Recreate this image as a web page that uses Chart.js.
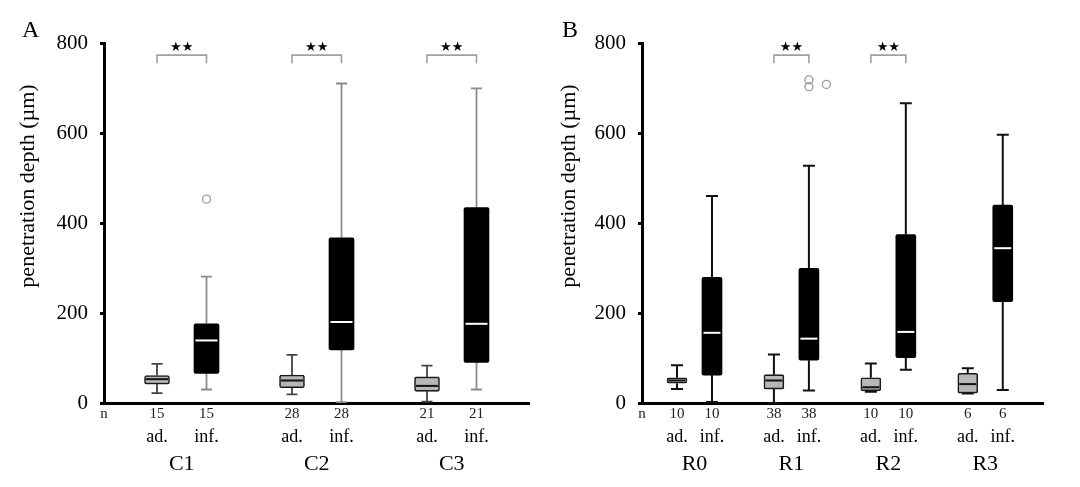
<!DOCTYPE html>
<html>
<head>
<meta charset="utf-8">
<script src="https://cdn.jsdelivr.net/npm/chart.js@4.4.1/dist/chart.umd.min.js"></script>
<style>
body { margin: 0; background: #fff; }
#wrap { position: relative; width: 1080px; height: 487px; }
canvas { position: absolute; top: 0; }
#chartA { left: 0; }
#chartB { left: 540px; }
</style>
</head>
<body>
<div id="wrap">
  <canvas id="chartA" width="540" height="487"></canvas>
  <canvas id="chartB" width="540" height="487"></canvas>
</div>
<script>
// ---- panel A data ----
var groupsA = ['C1', 'C2', 'C3'];
var countA = [15, 28, 21];
var adLowA = [22, 19, 3];
var adQ1A = [42, 34, 26];
var adMedA = [53, 50, 38];
var adQ3A = [61, 62, 58];
var adHighA = [87, 107, 83];
var infLowA = [30, 2, 30];
var infQ1A = [66, 118, 90];
var infMedA = [139, 180, 176];
var infQ3A = [176, 367, 434];
var infHighA = [281, 710, 699];
var infOutA = [[453], [], []];
var sigA = [true, true, true];

// ---- panel B data ----
var groupsB = ['R0', 'R1', 'R2', 'R3'];
var countB = [10, 38, 10, 6];
var adLowB = [31, 0, 25, 21];
var adQ1B = [44, 31, 27, 22];
var adMedB = [50, 50, 35, 42];
var adQ3B = [56, 63, 56, 66];
var adHighB = [84, 108, 88, 77];
var infLowB = [2, 28, 74, 29];
var infQ1B = [62, 95, 101, 225];
var infMedB = [156, 143, 158, 344];
var infQ3B = [279, 299, 374, 440];
var infHighB = [460, 527, 666, 596];
var infOutB = [[], [718, 703, 708], [], []];
var infOutShiftB = [[], [0, 0, 0.5], [], []];
var sigB = [false, true, true, false];

var yTicks = [0, 200, 400, 600, 800];
var subLabels = ['ad.', 'inf.'];
var yTitle = 'penetration depth (\u00b5m)';

var SERIF = "'Liberation Serif', 'Times New Roman', serif";
var BRACKET_TOP = 773;
var BRACKET_LOW = 755;

function buildBoxes(p) {
    var boxes = [];
    p.groups.forEach(function(g, i) {
        var base = p.start + i * p.step;
        boxes.push({pos: base, low: p.adLow[i], q1: p.adQ1[i], med: p.adMed[i], q3: p.adQ3[i], high: p.adHigh[i], kind: 'ad'});
        boxes.push({pos: base + p.inner, low: p.infLow[i], q1: p.infQ1[i], med: p.infMed[i], q3: p.infQ3[i], high: p.infHigh[i], kind: 'inf'});
    });
    return boxes;
}

function boxPlugin(p, boxes) {
    return {
        id: 'boxes' + p.letter,
        beforeDatasetsDraw: function(chart) {
            var ctx = chart.ctx, xs = chart.scales.x, ys = chart.scales.y;
            ctx.save();
            boxes.forEach(function(b) {
                var cx = xs.getPixelForValue(b.pos);
                ctx.strokeStyle = b.kind == 'ad' ? p.adWhisker : p.infWhisker;
                ctx.lineWidth = p.whiskerWidth;
                ctx.beginPath();
                ctx.moveTo(cx, ys.getPixelForValue(b.low));
                ctx.lineTo(cx, ys.getPixelForValue(b.q1));
                ctx.moveTo(cx, ys.getPixelForValue(b.q3));
                ctx.lineTo(cx, ys.getPixelForValue(b.high));
                ctx.moveTo(cx - p.cap / 2, ys.getPixelForValue(b.low));
                ctx.lineTo(cx + p.cap / 2, ys.getPixelForValue(b.low));
                ctx.moveTo(cx - p.cap / 2, ys.getPixelForValue(b.high));
                ctx.lineTo(cx + p.cap / 2, ys.getPixelForValue(b.high));
                ctx.stroke();
            });
            ctx.restore();
        },
        afterDatasetsDraw: function(chart) {
            var ctx = chart.ctx, xs = chart.scales.x, ys = chart.scales.y;
            ctx.save();
            boxes.forEach(function(b) {
                var cx = xs.getPixelForValue(b.pos);
                var my = ys.getPixelForValue(b.med);
                ctx.strokeStyle = b.kind == 'ad' ? '#111' : '#fff';
                ctx.lineWidth = 2;
                ctx.beginPath();
                ctx.moveTo(cx - p.boxWidth / 2 + 1.5, my);
                ctx.lineTo(cx + p.boxWidth / 2 - 1.5, my);
                ctx.stroke();
            });
            ctx.restore();
        },
        afterDraw: function(chart) {
            var ctx = chart.ctx, xs = chart.scales.x, ys = chart.scales.y;
            var bottom = chart.chartArea.bottom;
            ctx.save();
            ctx.fillStyle = '#000';
            ctx.textAlign = 'left';
            ctx.textBaseline = 'alphabetic';
            ctx.font = '24px ' + SERIF;
            ctx.fillText(p.letter, 22, 37);

            ctx.save();
            ctx.translate(p.titleX, 186);
            ctx.rotate(-Math.PI / 2);
            ctx.textAlign = 'center';
            ctx.textBaseline = 'middle';
            ctx.font = '22px ' + SERIF;
            ctx.fillText(yTitle, 0, 0);
            ctx.restore();

            ctx.textAlign = 'center';
            ctx.textBaseline = 'middle';
            ctx.fillStyle = '#222';
            ctx.font = '15px ' + SERIF;
            ctx.fillText('n', xs.getPixelForValue(0), bottom + 11);
            p.groups.forEach(function(g, i) {
                var a = xs.getPixelForValue(p.start + i * p.step);
                var f = xs.getPixelForValue(p.start + i * p.step + p.inner);
                ctx.fillStyle = '#222';
                ctx.font = '15px ' + SERIF;
                ctx.fillText(String(p.count[i]), a, bottom + 11);
                ctx.fillText(String(p.count[i]), f, bottom + 11);
                ctx.fillStyle = '#000';
                ctx.font = '18px ' + SERIF;
                ctx.fillText(subLabels[0], a, bottom + 34);
                ctx.fillText(subLabels[1], f, bottom + 34);
                ctx.font = '22px ' + SERIF;
                ctx.fillText(g, (a + f) / 2, bottom + 61);
                if (p.sig[i]) {
                    ctx.font = '13px "DejaVu Sans", sans-serif';
                    ctx.textBaseline = 'bottom';
                    ctx.fillText('\u2605\u2605', (a + f) / 2, ys.getPixelForValue(BRACKET_TOP) - 1);
                    ctx.textBaseline = 'middle';
                }
            });
            ctx.restore();
        }
    };
}

function makePanel(id, p) {
    var boxes = buildBoxes(p);
    var datasets = [{
        type: 'bar',
        data: boxes.map(function(b) { return {x: b.pos, y: [b.q1, b.q3]}; }),
        backgroundColor: boxes.map(function(b) { return b.kind == 'ad' ? '#b7b7b7' : '#000'; }),
        borderColor: boxes.map(function(b) { return b.kind == 'ad' ? '#1a1a1a' : '#000'; }),
        borderWidth: boxes.map(function(b) { return b.kind == 'ad' ? 1.6 : 0; }),
        borderSkipped: false,
        borderRadius: 2,
        barThickness: p.boxWidth,
        order: 2
    }];

    var outliers = [];
    p.infOut.forEach(function(list, i) {
        list.forEach(function(v, k) {
            var shift = p.infOutShift ? p.infOutShift[i][k] : 0;
            outliers.push({x: p.start + i * p.step + p.inner + shift, y: v});
        });
    });
    datasets.push({
        type: 'scatter',
        data: outliers,
        pointStyle: 'circle',
        pointRadius: 4,
        borderColor: '#9a9a9a',
        backgroundColor: 'rgba(0,0,0,0)',
        borderWidth: 1.3,
        order: 1
    });

    p.groups.forEach(function(g, i) {
        if (!p.sig[i]) return;
        var a = p.start + i * p.step, f = a + p.inner;
        datasets.push({
            type: 'line',
            data: [{x: a, y: BRACKET_LOW}, {x: a, y: BRACKET_TOP}, {x: f, y: BRACKET_TOP}, {x: f, y: BRACKET_LOW}],
            borderColor: '#a0a0a0',
            borderWidth: 1.6,
            pointRadius: 0,
            fill: false,
            tension: 0,
            order: 1
        });
    });

    return new Chart(document.getElementById(id), {
        type: 'bar',
        data: {datasets: datasets},
        options: {
            responsive: false,
            animation: false,
            events: [],
            layout: {padding: {left: 0, top: 43, right: p.padRight, bottom: 0}},
            plugins: {legend: {display: false}, tooltip: {enabled: false}},
            scales: {
                x: {
                    type: 'linear',
                    min: 0,
                    max: p.xMax,
                    offset: false,
                    grid: {display: false, drawTicks: false},
                    border: {display: true, color: '#000', width: 3},
                    ticks: {display: false},
                    afterFit: function(scale) { scale.height = 84; }
                },
                y: {
                    min: 0,
                    max: 800,
                    afterBuildTicks: function(scale) {
                        scale.ticks = yTicks.map(function(v) { return {value: v}; });
                    },
                    grid: {drawOnChartArea: false, drawTicks: true, tickLength: 4, tickWidth: 3, color: '#000'},
                    border: {display: true, color: '#000', width: 3},
                    ticks: {color: '#000', padding: 12, font: {family: SERIF, size: 21}},
                    afterFit: function(scale) { scale.width = p.axisLeft; }
                }
            }
        },
        plugins: [boxPlugin(p, boxes)]
    });
}

makePanel('chartA', {
    letter: 'A', groups: groupsA, count: countA, sig: sigA,
    adLow: adLowA, adQ1: adQ1A, adMed: adMedA, adQ3: adQ3A, adHigh: adHighA,
    infLow: infLowA, infQ1: infQ1A, infMed: infMedA, infQ3: infQ3A, infHigh: infHighA,
    infOut: infOutA,
    start: 1.06, inner: 0.99, step: 2.7, xMax: 8.5,
    axisLeft: 104, padRight: 11, titleX: 28,
    boxWidth: 25, cap: 11, whiskerWidth: 1.8,
    adWhisker: '#444', infWhisker: '#8c8c8c'
});

makePanel('chartB', {
    letter: 'B', groups: groupsB, count: countB, sig: sigB,
    adLow: adLowB, adQ1: adQ1B, adMed: adMedB, adQ3: adQ3B, adHigh: adHighB,
    infLow: infLowB, infQ1: infQ1B, infMed: infMedB, infQ3: infQ3B, infHigh: infHighB,
    infOut: infOutB, infOutShift: infOutShiftB,
    start: 1.0, inner: 1.0, step: 2.77, xMax: 11.46,
    axisLeft: 102, padRight: 37, titleX: 29,
    boxWidth: 20, cap: 12, whiskerWidth: 2,
    adWhisker: '#111', infWhisker: '#111'
});
</script>
</body>
</html>
